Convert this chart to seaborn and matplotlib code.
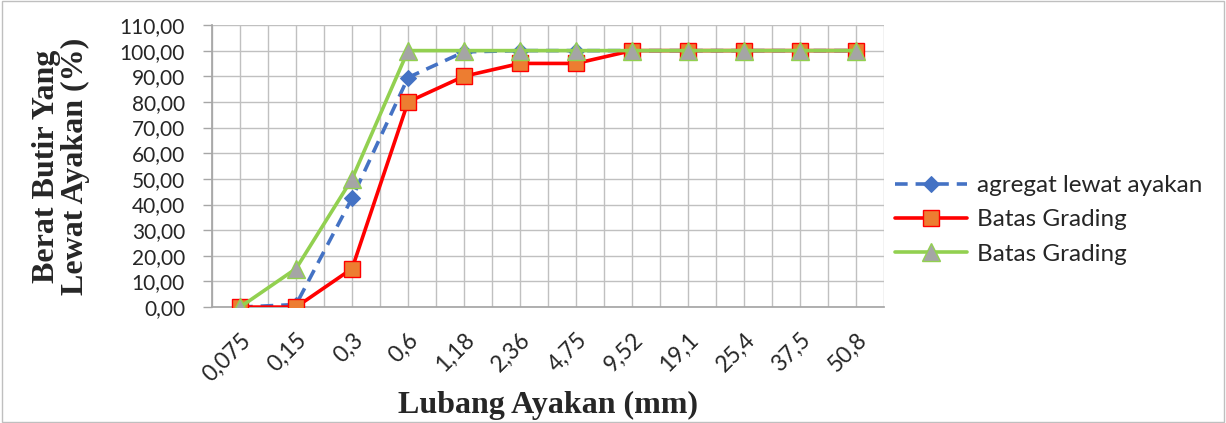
import matplotlib
matplotlib.use("Agg")
import matplotlib.pyplot as plt
import seaborn as sns
import numpy as np
import pandas as pd
from matplotlib.ticker import FuncFormatter, FixedLocator
from matplotlib.patches import Rectangle

sieve_labels = ["0,075", "0,15", "0,3", "0,6", "1,18", "2,36", "4,75", "9,52", "19,1", "25,4", "37,5", "50,8"]
agregat = [0.0, 1.0, 42.5, 89.5, 99.5, 100.0, 100.0, 100.0, 100.0, 100.0, 100.0, 100.0]
batas_bawah = [0.0, 0.0, 15.0, 80.0, 90.0, 95.0, 95.0, 100.0, 100.0, 100.0, 100.0, 100.0]
batas_atas = [0.0, 15.0, 50.0, 100.0, 100.0, 100.0, 100.0, 100.0, 100.0, 100.0, 100.0, 100.0]
y_ticks = [0, 10, 20, 30, 40, 50, 60, 70, 80, 90, 100, 110]

sns.set_theme(style="white")
plt.rcParams["font.family"] = ["Lato", "DejaVu Sans"]

pos = np.arange(len(sieve_labels))
df = pd.DataFrame({"pos": pos, "agregat": agregat, "bawah": batas_bawah, "atas": batas_atas})

fig = plt.figure(figsize=(12.26, 4.23), dpi=100)
ax = fig.add_axes([0.173, 0.274, 0.548, 0.667])

sns.lineplot(data=df, x="pos", y="agregat", ax=ax, color="#4472C4", linewidth=2.6,
             linestyle=(0, (3.5, 2.2)), marker="D", markersize=8, markerfacecolor="#4472C4",
             markeredgecolor="#4472C4", label="agregat lewat ayakan", zorder=3)
sns.lineplot(data=df, x="pos", y="bawah", ax=ax, color="#FF0000", linewidth=2.6,
             marker="s", markersize=11, markerfacecolor="#ED7D31", markeredgecolor="#FF0000",
             markeredgewidth=1.0, label="Batas Grading", zorder=4)
sns.lineplot(data=df, x="pos", y="atas", ax=ax, color="#92D050", linewidth=2.6,
             marker="^", markersize=13, markerfacecolor="#A5A5A5", markeredgecolor="#92D050",
             markeredgewidth=1.0, label="Batas Grading", zorder=5)

ax.set_xlim(-0.5, len(sieve_labels) - 0.5)
ax.set_ylim(0, 110)
ax.set_xticks(pos)
ax.set_xticklabels(sieve_labels, rotation=45, ha="right", rotation_mode="anchor", fontsize=16.5)
ax.xaxis.set_minor_locator(FixedLocator(np.arange(-0.5, len(sieve_labels), 1.0)))
ax.set_yticks(y_ticks)
ax.yaxis.set_major_formatter(FuncFormatter(lambda v, p: f"{v:.2f}".replace(".", ",")))
ax.tick_params(axis="y", left=True, labelsize=15, length=6.5, width=1.0, color="#A6A6A6", pad=13)
ax.tick_params(axis="x", which="both", length=0, pad=16)
ax.grid(True, which="both", color="#C0C0C0", linewidth=1.0)
ax.set_axisbelow(True)
for s in ["top", "right"]:
    ax.spines[s].set_visible(False)
ax.spines["left"].set_color("#A6A6A6")
ax.spines["bottom"].set_color("#A6A6A6")

ax.set_xlabel("Lubang Ayakan (mm)", fontsize=23, fontweight="bold",
              family=["Liberation Serif", "DejaVu Serif"], labelpad=4)
ax.set_ylabel("Berat Butir Yang\nLewat Ayakan (%)", fontsize=23, fontweight="bold",
              family=["Liberation Serif", "DejaVu Serif"], linespacing=1.0)
ax.yaxis.set_label_coords(-0.182, 0.5)

ax.legend(loc="center left", bbox_to_anchor=(0.716, 0.48), bbox_transform=fig.transFigure,
          frameon=False, fontsize=17.5, handlelength=2.95, handletextpad=0.45, labelspacing=0.55,
          borderpad=0.2)

fig.patches.append(Rectangle((0.002, 0.002), 0.996, 0.996, transform=fig.transFigure,
                             fill=False, edgecolor="#BFBFBF", linewidth=1.0))

fig.savefig("out.png", dpi=100)
